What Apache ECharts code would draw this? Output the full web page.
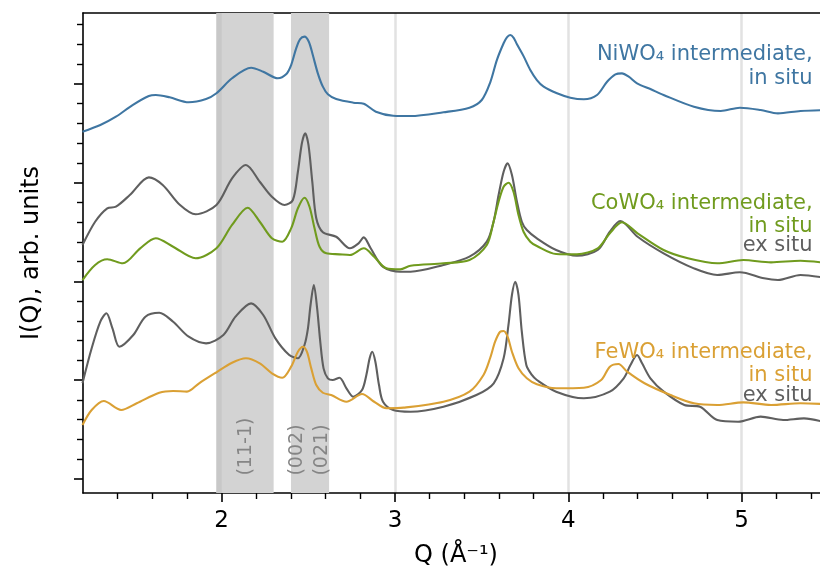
<!DOCTYPE html>
<html><head><meta charset="utf-8">
<script src="https://cdn.jsdelivr.net/npm/echarts@6/dist/echarts.min.js"></script>
<style>html,body{margin:0;padding:0;background:#fff}#c{width:820px;height:575px}</style>
</head><body><div id="c"></div>
<script>
// ---- data (Q in 1/Å, intensity in arb. units incl. vertical offsets) ----
const niQ = [1.197,1.30,1.39,1.486,1.58,1.62,1.70,1.81,1.91,1.97,2.06,2.17,2.24,2.324,2.372,2.401,2.430,2.453,2.478,2.503,2.526,2.555,2.584,2.613,2.661,2.76,2.82,2.89,2.99,3.09,3.28,3.43,3.501,3.549,3.588,3.627,3.646,3.665,3.685,3.704,3.742,3.781,3.819,3.858,3.935,4.012,4.09,4.166,4.224,4.272,4.31,4.349,4.397,4.474,4.55,4.725,4.88,4.99,5.11,5.21,5.34,5.50];
const niInSitu = [3.515,3.583,3.667,3.785,3.877,3.887,3.863,3.813,3.846,3.904,4.056,4.163,4.122,4.056,4.096,4.190,4.359,4.453,4.477,4.426,4.291,4.106,3.971,3.894,3.846,3.809,3.799,3.718,3.677,3.674,3.712,3.758,3.836,4.010,4.240,4.410,4.470,4.494,4.465,4.400,4.280,4.140,4.038,3.971,3.904,3.859,3.843,3.887,4.021,4.096,4.106,4.072,4.005,3.947,3.887,3.768,3.725,3.758,3.735,3.701,3.725,3.735];

const coExQ = [1.197,1.27,1.34,1.39,1.47,1.58,1.66,1.76,1.85,1.97,2.06,2.14,2.22,2.29,2.363,2.411,2.440,2.463,2.482,2.501,2.523,2.546,2.584,2.661,2.74,2.79,2.82,2.86,2.93,3.03,3.09,3.28,3.43,3.530,3.569,3.598,3.627,3.650,3.675,3.704,3.732,3.761,3.819,3.93,4.05,4.17,4.24,4.30,4.40,4.55,4.725,4.86,4.99,5.13,5.21,5.34,5.50];
const coExSitu = [2.368,2.604,2.740,2.756,2.874,3.053,2.976,2.773,2.679,2.773,3.043,3.178,3.009,2.857,2.773,2.824,3.110,3.398,3.499,3.381,3.009,2.639,2.497,2.452,2.335,2.385,2.446,2.335,2.149,2.098,2.098,2.166,2.250,2.402,2.604,2.874,3.110,3.195,3.077,2.807,2.604,2.520,2.436,2.318,2.260,2.318,2.503,2.611,2.452,2.284,2.132,2.065,2.092,2.031,2.014,2.065,2.031];

const coInQ = [1.197,1.27,1.34,1.43,1.53,1.62,1.72,1.85,1.97,2.06,2.15,2.22,2.29,2.35,2.401,2.440,2.478,2.507,2.536,2.565,2.604,2.68,2.74,2.82,2.88,2.95,3.03,3.09,3.28,3.43,3.530,3.569,3.598,3.627,3.655,3.684,3.713,3.742,3.781,3.819,3.93,4.05,4.17,4.24,4.31,4.40,4.55,4.69,4.86,5.01,5.17,5.34,5.50];
const coInSitu = [2.014,2.166,2.224,2.183,2.335,2.436,2.351,2.234,2.335,2.571,2.746,2.604,2.436,2.402,2.537,2.740,2.847,2.756,2.537,2.351,2.284,2.274,2.267,2.335,2.250,2.132,2.122,2.159,2.183,2.216,2.368,2.604,2.807,2.959,2.999,2.908,2.672,2.503,2.402,2.358,2.277,2.274,2.335,2.487,2.598,2.487,2.318,2.234,2.183,2.216,2.193,2.209,2.183];

const feExQ = [1.197,1.25,1.30,1.335,1.37,1.41,1.49,1.56,1.64,1.72,1.81,1.91,2.01,2.08,2.17,2.24,2.31,2.39,2.44,2.478,2.498,2.513,2.532,2.551,2.569,2.588,2.613,2.64,2.68,2.72,2.76,2.81,2.835,2.854,2.869,2.887,2.908,2.931,2.99,3.09,3.28,3.47,3.57,3.627,3.655,3.675,3.694,3.713,3.732,3.758,3.790,3.819,3.93,4.09,4.24,4.320,4.359,4.397,4.426,4.474,4.551,4.67,4.76,4.86,4.98,5.11,5.24,5.36,5.50];
const feExSitu = [0.969,1.323,1.592,1.677,1.525,1.339,1.457,1.643,1.683,1.592,1.440,1.373,1.457,1.643,1.778,1.660,1.424,1.255,1.222,1.356,1.525,1.761,1.964,1.728,1.390,1.120,1.019,1.002,1.025,0.918,0.833,0.900,1.053,1.222,1.288,1.187,0.951,0.782,0.698,0.681,0.732,0.850,0.969,1.222,1.559,1.862,1.997,1.862,1.491,1.154,1.053,1.002,0.884,0.817,0.884,1.019,1.154,1.255,1.171,1.019,0.884,0.749,0.732,0.597,0.580,0.631,0.597,0.614,0.564];

const feInQ = [1.197,1.25,1.32,1.42,1.51,1.64,1.72,1.80,1.87,1.97,2.06,2.14,2.22,2.29,2.35,2.401,2.440,2.469,2.492,2.517,2.546,2.584,2.632,2.72,2.81,2.88,2.95,3.05,3.28,3.43,3.511,3.549,3.578,3.607,3.627,3.650,3.675,3.713,3.761,3.819,3.93,4.09,4.19,4.24,4.29,4.34,4.44,4.59,4.725,4.86,5.01,5.17,5.34,5.50];
const feInSitu = [0.547,0.698,0.789,0.698,0.766,0.873,0.891,0.884,0.969,1.080,1.177,1.222,1.171,1.070,1.025,1.137,1.288,1.339,1.288,1.120,0.951,0.873,0.850,0.782,0.860,0.782,0.716,0.722,0.782,0.884,1.053,1.222,1.390,1.491,1.498,1.440,1.288,1.120,1.019,0.958,0.918,0.924,1.002,1.137,1.164,1.086,0.969,0.850,0.766,0.749,0.776,0.749,0.766,0.756];

// axis ticks
const xMajorTicks = [2, 3, 4, 5];
const xMinorTicks = [1.4, 1.6, 1.8, 2.2, 2.4, 2.6, 2.8, 3.2, 3.4, 3.6, 3.8, 4.2, 4.4, 4.6, 4.8, 5.2, 5.4];
const yMajorTicks = [0, 1, 2, 3, 4];
const yMinorTicks = [0.2,0.4,0.6,0.8,1.2,1.4,1.6,1.8,2.2,2.4,2.6,2.8,3.2,3.4,3.6,3.8,4.2,4.4,4.6];

// shaded Bragg-peak regions [from, to]
const bands = [[1.97, 2.30], [2.40, 2.62]];
const bandEdge = [[1.97, 2.00]];

// annotation texts: [Q (right edge), y, text, colour key]
const seriesLabels = [
  [5.41, 4.292, 'NiWO\u2084 intermediate,', 'ni'],
  [5.41, 4.049, 'in situ', 'ni'],
  [5.41, 2.784, 'CoWO\u2084 intermediate,', 'co'],
  [5.41, 2.551, 'in situ', 'co'],
  [5.41, 2.359, 'ex situ', 'ex'],
  [5.41, 1.276, 'FeWO\u2084 intermediate,', 'fe'],
  [5.41, 1.043, 'in situ', 'fe'],
  [5.41, 0.840, 'ex situ', 'ex']
];
// reflection labels: [Q, y (text start), text]
const hklLabels = [
  [2.139, 0.035, '(11-1)'],
  [2.434, 0.035, '(002)'],
  [2.578, 0.035, '(021)']
];

const colors = { ni: '#3f76a2', co: '#709b1e', fe: '#daa034', ex: '#5f5f5f' };
const FONT = 'DejaVu Sans';
const pairs = (q, v) => q.map((x, i) => [x, v[i]]);

const chart = echarts.init(document.getElementById('c'));
const xMin = 1.2, xMax = 5.4526;
const yMin = -0.1417, yMax = 4.7166;

function lineSeries(name, q, v, color, z) {
  return { name, type: 'line', data: pairs(q, v), showSymbol: false, symbol: 'none',
    smooth: 0.3, z, lineStyle: { color, width: 2.1 }, silent: true };
}

const option = {
  animation: false,
  backgroundColor: '#ffffff',
  textStyle: { fontFamily: FONT },
  grid: { left: 83, right: 0, top: 13, bottom: 82, show: false },
  xAxis: [{
    type: 'value', min: xMin, max: xMax, position: 'bottom', z: 0,
    axisLine: { show: true, onZero: false, lineStyle: { color: '#000', width: 1.6 } },
    axisTick: { show: true, customValues: xMajorTicks, length: 9, lineStyle: { color: '#000', width: 1.6 } },
    axisLabel: { show: true, customValues: xMajorTicks, fontSize: 23, color: '#000', margin: 17, fontFamily: FONT },
    splitLine: { show: true, lineStyle: { color: '#e2e2e2', width: 2.5 } },
    name: 'Q (\u00c5\u207b\u00b9)', nameLocation: 'middle', nameGap: 51,
    nameTextStyle: { fontSize: 24, color: '#000', fontFamily: FONT, padding: [0, 0, 0, 9] }
  }, {
    type: 'value', min: xMin, max: xMax, position: 'bottom', z: 0,
    axisLine: { show: false, onZero: false },
    axisTick: { show: true, customValues: xMinorTicks, length: 6, lineStyle: { color: '#000', width: 1.4 } },
    axisLabel: { show: false }, splitLine: { show: false }
  }, {
    type: 'value', min: xMin, max: xMax, position: 'top', z: 0,
    axisLine: { show: true, onZero: false, lineStyle: { color: '#000', width: 1.6 } },
    axisTick: { show: false }, axisLabel: { show: false }, splitLine: { show: false }
  }],
  yAxis: [{
    type: 'value', min: yMin, max: yMax, position: 'left', z: 0,
    axisLine: { show: true, onZero: false, lineStyle: { color: '#000', width: 1.6 } },
    axisTick: { show: true, customValues: yMajorTicks, length: 9, lineStyle: { color: '#000', width: 1.6 } },
    axisLabel: { show: false }, splitLine: { show: false },
    name: 'I(Q), arb. units', nameLocation: 'middle', nameGap: 39,
    nameTextStyle: { fontSize: 24, color: '#000', fontFamily: FONT }
  }, {
    type: 'value', min: yMin, max: yMax, position: 'left', z: 0,
    axisLine: { show: false, onZero: false },
    axisTick: { show: true, customValues: yMinorTicks, length: 6, lineStyle: { color: '#000', width: 1.4 } },
    axisLabel: { show: false }, splitLine: { show: false }
  }],
  series: [
    { name: 'bands', type: 'line', data: [], z: 2, silent: true,
      markArea: { silent: true, z: 2, itemStyle: { color: '#d3d3d3', opacity: 1 },
        data: bands.map(b => [{ xAxis: b[0] }, { xAxis: b[1] }]).concat(
              bandEdge.map(b => [{ xAxis: b[0], itemStyle: { color: '#c8c8c8' } }, { xAxis: b[1] }])) } },
    lineSeries('Fe ex situ', feExQ, feExSitu, colors.ex, 4),
    lineSeries('FeWO4 in situ', feInQ, feInSitu, colors.fe, 5),
    lineSeries('Co ex situ', coExQ, coExSitu, colors.ex, 4),
    lineSeries('CoWO4 in situ', coInQ, coInSitu, colors.co, 5),
    lineSeries('NiWO4 in situ', niQ, niInSitu, colors.ni, 5)
  ]
};
chart.setOption(option);

const toPx = (q, y) => chart.convertToPixel({ xAxisIndex: 0, yAxisIndex: 0 }, [q, y]);
const graphics = [];
seriesLabels.forEach(([q, y, text, key]) => {
  const p = toPx(q, y);
  graphics.push({ type: 'text', x: p[0], y: p[1], z: 10, silent: true,
    style: { text, fill: colors[key], font: '21px "DejaVu Sans"', textAlign: 'right', textVerticalAlign: 'middle' } });
});
hklLabels.forEach(([q, y, text]) => {
  const p = toPx(q, y);
  graphics.push({ type: 'text', x: p[0], y: p[1], rotation: Math.PI / 2, z: 10, silent: true,
    style: { text, fill: '#858585', font: '19px "DejaVu Sans"', textAlign: 'left', textVerticalAlign: 'middle' } });
});
chart.setOption({ graphic: graphics });
</script>
</body></html>
